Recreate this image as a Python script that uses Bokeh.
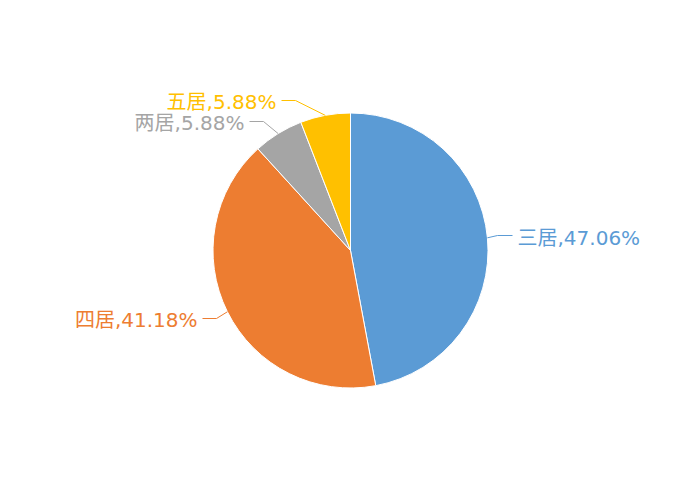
import math
from bokeh.plotting import figure
from bokeh.models import Range1d
from bokeh.core.properties import value
from bokeh.embed import file_html
from bokeh.resources import INLINE

# Share of listings by layout
categories = ["三居", "四居", "两居", "五居"]
percents = [47.06, 41.18, 5.88, 5.88]
colors = ["#5B9BD5", "#ED7D31", "#A5A5A5", "#FFC000"]

W, H = 700, 500
cx, cy, r = 350, 250, 137.5

p = figure(width=W, height=H, output_backend="svg", toolbar_location=None,
           x_range=Range1d(0, W), y_range=Range1d(0, H), min_border=0)
p.axis.visible = False
p.grid.visible = False
p.outline_line_color = None
p.background_fill_color = "white"
p.border_fill_color = "white"

# slices run clockwise from 12 o'clock
total = sum(percents)
starts, ends, mids = [], [], []
a = math.pi / 2
for v in percents:
    sweep = 2 * math.pi * v / total
    starts.append(a - sweep)
    ends.append(a)
    mids.append(a - sweep / 2)
    a -= sweep

p.wedge(x=[cx] * len(percents), y=[cy] * len(percents), radius=r,
        start_angle=starts, end_angle=ends, fill_color=colors,
        line_color="white", line_width=1)

# leader lines: slice edge -> elbow -> horizontal run, then label
elbows = [(497, 235, 512), (216, 318, 202), (263, 121, 249), (295, 100, 281)]
text_pos = [(517, 237, "left"), (197, 319, "right"), (244, 122, "right"), (276, 101, "right")]

for i, cat in enumerate(categories):
    ax = cx + r * math.cos(mids[i])
    ay = cy + r * math.sin(mids[i])
    ex, ey, hx = elbows[i]
    p.line([ax, ex, hx], [ay, H - ey, H - ey], line_color=colors[i], line_width=1)
    tx, ty, align = text_pos[i]
    p.text(x=[tx], y=[H - ty], text=[f"{cat},{percents[i]:.2f}%"],
           text_color=colors[i], text_font=value("DejaVu Sans, Noto Sans CJK SC"),
           text_font_size="20px", text_align=align, text_baseline="middle")

open("out.html", "w").write(file_html(p, INLINE))
